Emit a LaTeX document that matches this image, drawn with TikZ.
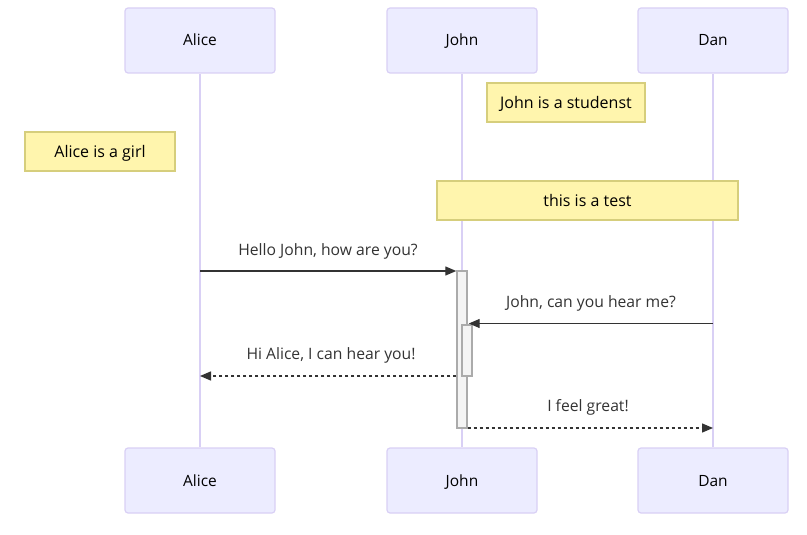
\documentclass[tikz,border=0pt]{standalone}
\usepackage{fontspec}
\setmainfont{Open Sans}
\usetikzlibrary{arrows.meta}
\definecolor{actfill}{HTML}{ECECFF}
\definecolor{actline}{HTML}{D9D0F5}
\definecolor{notefill}{HTML}{FFF5AD}
\definecolor{noteline}{HTML}{D6CE7C}
\definecolor{txt}{HTML}{333333}
\definecolor{actvfill}{HTML}{F4F4F4}
\definecolor{actvline}{HTML}{ABABAB}
\tikzset{
  actor/.style={draw=actline, fill=actfill, line width=1.2pt, rounded corners=3pt, minimum width=150pt, minimum height=65pt, inner sep=0pt, text height=11pt, text depth=0pt, font=\fontsize{15.5}{17}\selectfont, text=black},
  note/.style={draw=noteline, fill=notefill, line width=1.4pt, minimum height=39pt, inner sep=0pt, text height=11.4pt, text depth=0pt, font=\fontsize{16}{18}\selectfont, text=black},
  actv/.style={draw=actvline, fill=actvfill, line width=1.4pt, minimum width=10pt, inner sep=0pt},
  lifeline/.style={draw=actline, line width=1.2pt},
  msg/.style={draw=txt, line width=1.3pt, -{Triangle[length=11pt,width=9pt]}},
  reply/.style={msg, dash pattern=on 3pt off 3pt},
  lbl/.style={font=\fontsize{15.7}{17}\selectfont, text=txt, inner sep=0pt, text height=11.2pt, text depth=0pt}
}
\begin{document}
\begin{tikzpicture}[x=1pt,y=-1pt]
\useasboundingbox (0,0) rectangle (807,535);
% actors
\node[actor] (aliceT) at (200,40.5) {Alice};
\node[actor] (johnT) at (462,40.5) {John};
\node[actor] (danT) at (713,40.5) {Dan};
\node[actor] (aliceB) at (200,480.5) {Alice};
\node[actor] (johnB) at (462,480.5) {John};
\node[actor] (danB) at (713,480.5) {Dan};
% lifelines
\draw[lifeline] (aliceT.south) -- (aliceB.north);
\draw[lifeline] (johnT.south) -- (johnB.north);
\draw[lifeline] (danT.south) -- (danB.north);
% notes
\node[note, minimum width=158pt] (n1) at (566,102.5) {John is a studenst};
\node[note, minimum width=150pt] (n2) at (100,151.5) {Alice is a girl};
\node[note, minimum width=301pt] (n3) at (587.5,200.5) {this is a test};
% activations
\node[actv, minimum height=157pt] (a1) at (462,349.5) {};
\node[actv, minimum height=51pt] (a2) at (467,350.5) {};
% messages
\coordinate (m1) at (200,271);
\draw[msg] (m1) -- (a1.west |- m1);
\node[lbl] (l1) at (328,250) {Hello John, how are you?};
\coordinate (m2) at (713,323.5);
\draw[msg, shorten >=-4pt] (m2) -- (a2.east |- m2);
\node[lbl] (l2) at (591,302) {John, can you hear me?};
\coordinate (m3) at (a1.west |- 0,376);
\coordinate (m3e) at (200,376);
\draw[reply] (m3) -- (m3e);
\node[lbl] (l3) at (331,354) {Hi Alice, I can hear you!};
\coordinate (m4) at (a1.east |- 0,428);
\coordinate (m4e) at (713,428);
\draw[reply] (m4) -- (m4e);
\node[lbl] (l4) at (588,406) {I feel great!};
\end{tikzpicture}
\end{document}
